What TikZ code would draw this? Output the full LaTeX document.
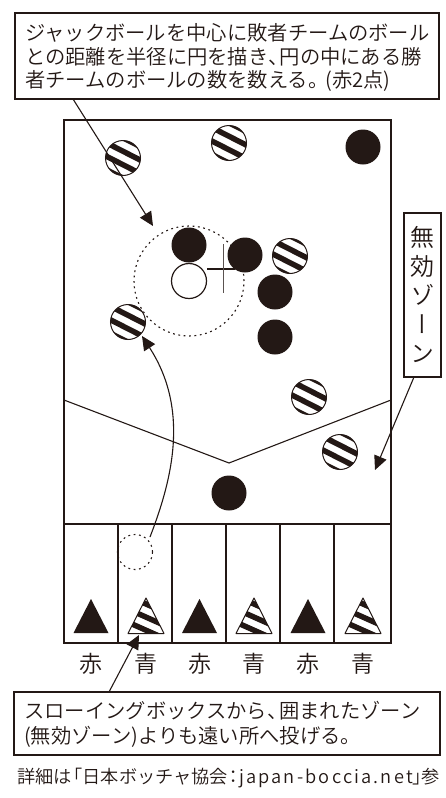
\documentclass[tikz,border=0pt]{standalone}
\usepackage{fontspec}
\setmainfont{Noto Sans CJK JP}[UprightFont=* DemiLight]
\newfontfamily\vertfont[RawFeature=+vert]{Noto Sans CJK JP DemiLight}
\usetikzlibrary{arrows.meta}
\definecolor{ink}{HTML}{231815}
\newcommand{\tightc}[2]{\makebox[#1em][l]{#2}}
\newcommand{\tightm}[2]{\makebox[#1em][c]{#2}}
\newcommand{\tightr}[2]{\makebox[#1em][r]{#2}}
\tikzset{
  box/.style={draw=ink,line width=1.1pt,fill=white,inner sep=0pt},
  txt/.style={text=ink,font=\fontsize{20.3}{23.5}\selectfont,align=left,inner sep=0pt},
  court/.style={draw=ink,line width=2pt},
  line/.style={draw=ink,line width=1.1pt},
  arr/.style={draw=ink,line width=1.1pt,-{Triangle[length=14pt,width=13pt]}},
  blackball/.style={circle,fill=ink,minimum size=35pt,inner sep=0pt},
  ballring/.style={circle,draw=ink,line width=1pt,minimum size=35pt,inner sep=0pt},
  dotcirc/.style={circle,draw=ink,line width=1.1pt,dash pattern=on 1.8pt off 3.6pt},
  lab/.style={text=ink,font=\fontsize{23}{23}\selectfont,inner sep=0pt}
}
\newcommand{\sball}[3]{%
  \begin{scope}
    \clip (#2,#3) circle (17.5);
    \foreach \d in {-18,-6,6,18}{
      \draw[ink,line width=5.5pt,shift={(#2,#3)},rotate=-27] (-25,\d) -- (25,\d);
    }
  \end{scope}
  \node[ballring] (#1) at (#2,#3) {};
}
\newcommand{\stri}[1]{%
  \begin{scope}
    \clip (#1-18,633.5) -- (#1,598) -- (#1+18,633.5) -- cycle;
    \foreach \d in {-23,-11,1,13,25}{
      \draw[ink,line width=5.5pt,shift={(#1,616)},rotate=-24] (-30,\d) -- (30,\d);
    }
  \end{scope}
  \draw[ink,line width=1pt,line join=round] (#1-18,633.5) -- (#1,598) -- (#1+18,633.5) -- cycle;
}
\newcommand{\btri}[1]{\fill[ink] (#1-17.5,633) -- (#1,599) -- (#1+17.5,633) -- cycle;}
\begin{document}
\begin{tikzpicture}[x=1pt,y=-1pt]
\useasboundingbox (0,0) rectangle (445,798);
% court
\draw[court,line width=2.2pt] (64,120) rectangle (391,643);
\draw[court] (64,524) -- (391,524);
\foreach \x in {118,172,226,280,334}{\draw[court] (\x,524) -- (\x,643);}
\draw[line] (64,400) -- (229,463) -- (391,400);
% triangles
\btri{91}\stri{146}\btri{199.5}\stri{254}\btri{308}\stri{363}
% dotted
\node[dotcirc,minimum size=110pt,inner sep=0pt] (range) at (189,281) {};
\node[dotcirc,minimum size=35pt,inner sep=0pt] (start) at (135,552) {};
% cross
\coordinate (ca) at (207,269); \coordinate (cb) at (235,269);
\coordinate (cc) at (223.5,244); \coordinate (cd) at (223.5,293);
\draw[line,line width=1.2pt] (ca) -- (cb);
\draw[line,line width=1.2pt,draw=ink!75] (cc) -- (cd);
% balls
\node[blackball] (b1) at (363,147) {};
\node[blackball] (b2) at (189,245) {};
\node[blackball] (b3) at (245,255) {};
\node[blackball] (b4) at (275,292) {};
\node[blackball] (b5) at (275,337) {};
\node[blackball] (b6) at (229,493) {};
\node[circle,draw=ink,line width=1.2pt,fill=white,minimum size=35pt,inner sep=0pt] (jack) at (189,281) {};
\sball{s1}{123}{158}
\sball{s2}{229}{143}
\sball{s3}{290}{256}
\sball{s4}{128}{322}
\sball{s5}{309}{397}
\sball{s6}{340}{452}
% labels
\foreach \x/\t in {91/赤,146/青,199.5/赤,254/青,308/赤,363/青}{\node[lab] at (\x,663.5) {\t};}
% boxes
\node[box,minimum width=424pt,minimum height=86pt] (top) at (227,56) {};
\node[txt,anchor=north west] at (25,23.5) {ジャックボールを中心に敗者チームのボール\\との距離を半径に円を描き\tightc{.55}{、}円の中にある勝\\者チームのボールの数を数える\tightc{.85}{。}(赤2点)};
\node[box,minimum width=426pt,minimum height=63pt] (bottom) at (227,723.5) {};
\node[txt,anchor=north west,font=\fontsize{20.3}{25}\selectfont] at (24,701.5) {スローイングボックスから\tightc{.6}{、}囲まれたゾーン\\(無効ゾーン)よりも遠い所へ投げる。};
\node[box,minimum width=37pt,minimum height=164pt] (zone) at (422.5,295) {};
\node[text=ink,inner sep=0pt,align=center,font=\fontsize{24}{29}\vertfont\selectfont] at (422.5,295) {無\\効\\ゾ\\ー\\ン};
\node[anchor=west,text=ink,inner sep=0pt,font=\fontsize{18.2}{20}\selectfont] (foot) at (17,778) {詳細は\tightr{.6}{「}日本ボッチャ協会\tightm{.6}{：}{\addfontfeature{LetterSpace=12}japan-boccia.net}\tightc{.5}{」}参};
% arrows
\coordinate (a1s) at (73,99); \coordinate (a1e) at (153,226);
\draw[arr] (a1s) -- (a1e);
\coordinate (a2s) at (109,692); \coordinate (a2e) at (139,635);
\draw[arr] (a2s) -- (a2e);
\coordinate (a3s) at (414,377); \coordinate (a3e) at (375,470);
\draw[arr] (a3s) -- (a3e);
\coordinate (a4s) at (150,537); \coordinate (a4e) at (142,336);
\draw[arr] (a4s) .. controls (172,480) and (190,410) .. (a4e);
\end{tikzpicture}
\end{document}
